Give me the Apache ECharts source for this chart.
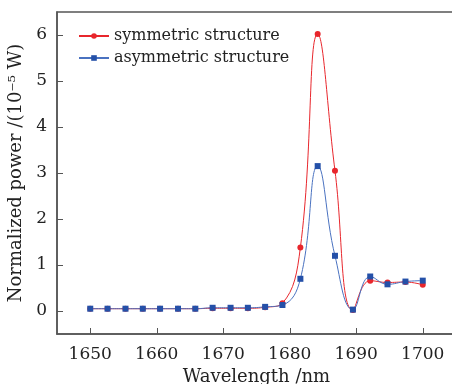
<!DOCTYPE html>
<html>
<head>
<meta charset="utf-8">
<script src="https://cdn.jsdelivr.net/npm/echarts@6/dist/echarts.min.js"></script>
<style>
  html, body { margin: 0; padding: 0; background: #fff; }
  #chart { width: 452px; height: 384px; }
</style>
</head>
<body>
<div id="chart"></div>
<script>
// wavelength samples (nm)
var wavelength = [1650, 1652.6, 1655.3, 1657.9, 1660.5, 1663.2, 1665.8, 1668.4, 1671.1, 1673.7,
                  1676.3, 1678.9, 1681.6, 1684.2, 1686.8, 1689.5, 1692.1, 1694.7, 1697.4, 1700];
// normalized power, 1e-5 W
var symmetric = [0.05, 0.05, 0.05, 0.05, 0.05, 0.05, 0.05, 0.06, 0.06, 0.06,
                 0.08, 0.17, 1.38, 6.02, 3.05, 0.02, 0.66, 0.62, 0.63, 0.57];
var asymmetric = [0.05, 0.05, 0.05, 0.05, 0.05, 0.05, 0.05, 0.07, 0.07, 0.07,
                  0.09, 0.13, 0.70, 3.15, 1.20, 0.03, 0.75, 0.58, 0.64, 0.66];
var xTicks = [1650, 1660, 1670, 1680, 1690, 1700];
var yTicks = [0, 1, 2, 3, 4, 5, 6];

var font = 'DejaVu Serif';
var red = '#e8262c';
var blue = '#2450a8';

function pairs(ys) {
  return wavelength.map(function (x, i) { return [x, ys[i]]; });
}

var chart = echarts.init(document.getElementById('chart'));

var option = {
  animation: false,
  textStyle: { fontFamily: font },
  grid: {
    left: 57, top: 12, right: -4, bottom: 50,
    outerBoundsMode: 'none',
    show: true, borderColor: '#555', borderWidth: 1.5
  },
  legend: {
    left: 73, top: 23, orient: 'vertical',
    itemWidth: 30, itemHeight: 7, itemGap: 6,
    textStyle: { fontFamily: font, fontSize: 16, color: '#222' },
    data: ['symmetric structure', 'asymmetric structure']
  },
  xAxis: {
    type: 'value', min: 1645, max: 1705, interval: 5,
    name: 'Wavelength /nm', nameLocation: 'middle', nameGap: 34,
    nameTextStyle: { fontFamily: font, fontSize: 18, color: '#222' },
    axisLine: { onZero: false, lineStyle: { color: '#555', width: 1.5 } },
    axisTick: { inside: true, length: 6, customValues: xTicks, lineStyle: { color: '#555' } },
    axisLabel: { fontSize: 17, color: '#222', margin: 12, customValues: xTicks,
      formatter: function (v) { return String(v); } },
    splitLine: { show: false }
  },
  yAxis: {
    type: 'value', min: -0.5, max: 6.5, interval: 0.5,
    name: 'Normalized power /(10\u207B\u2075 W)', nameLocation: 'middle', nameGap: 30,
    nameTextStyle: { fontFamily: font, fontSize: 18, color: '#222' },
    axisLine: { onZero: false, lineStyle: { color: '#555', width: 1.5 } },
    axisTick: { inside: true, length: 6, customValues: yTicks, lineStyle: { color: '#555' } },
    axisLabel: { fontSize: 17, color: '#222', margin: 10, customValues: yTicks,
      formatter: function (v) { return String(v); } },
    splitLine: { show: false }
  },
  series: [
    {
      name: 'symmetric structure', type: 'line', data: pairs(symmetric),
      smooth: 0.45, smoothConstraint: false,
      symbol: 'circle', symbolSize: 6,
      itemStyle: { color: red },
      lineStyle: { color: red, width: 1 }
    },
    {
      name: 'asymmetric structure', type: 'line', data: pairs(asymmetric),
      smooth: 0.45, smoothConstraint: false,
      symbol: 'rect', symbolSize: 6,
      itemStyle: { color: blue },
      lineStyle: { color: '#4a72c0', width: 1 }
    }
  ]
};

chart.setOption(option);
</script>
</body>
</html>
